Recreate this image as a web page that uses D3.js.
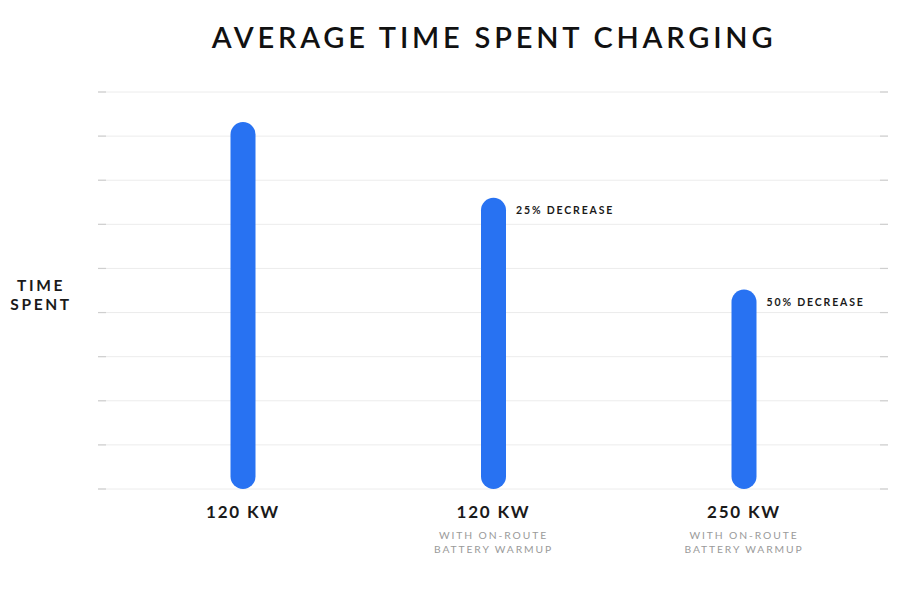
<!DOCTYPE html>
<html>
<head>
<meta charset="utf-8">
<script src="https://cdn.jsdelivr.net/npm/d3@7"></script>
<style>
  html, body { margin: 0; padding: 0; background: #fff; }
  svg { display: block; }
  text { font-family: "Lato", "Open Sans", sans-serif; }
</style>
</head>
<body>
<svg id="chart" width="900" height="600"></svg>
<script>
// ---- data ----
const categories = ["120 KW", "120 KW ", "250 KW"];
const subLabels = [[], ["WITH ON-ROUTE", "BATTERY WARMUP"], ["WITH ON-ROUTE", "BATTERY WARMUP"]];
const values = [8.32, 6.6, 4.52];
const annotations = ["", "25% DECREASE", "50% DECREASE"];
const gridTicks = [0, 1, 2, 3, 4, 5, 6, 7, 8, 9];
const title = "AVERAGE TIME SPENT CHARGING";
const yLabel = ["TIME", "SPENT"];

// ---- layout ----
(function () {
const svg = d3.select("#chart");
const gLeft = 98, gRight = 888, gTop = 92, gBottom = 489;
const x = d3.scalePoint().domain(categories).range([243, 744]);
const y = d3.scaleLinear().domain([0, 9]).range([gBottom, gTop]);
const barW = 25;

// grid lines
const grid = svg.append("g");
grid.selectAll("line.g").data(gridTicks).join("line").attr("class", "g")
  .attr("x1", gLeft).attr("x2", gRight)
  .attr("y1", d => y(d)).attr("y2", d => y(d))
  .attr("stroke", "#ececec").attr("stroke-width", 1);
grid.selectAll("line.l").data(gridTicks).join("line").attr("class", "l")
  .attr("x1", gLeft).attr("x2", gLeft + 8)
  .attr("y1", d => y(d)).attr("y2", d => y(d))
  .attr("stroke", "#cfcfcf").attr("stroke-width", 1.2);
grid.selectAll("line.r").data(gridTicks).join("line").attr("class", "r")
  .attr("x1", gRight - 8).attr("x2", gRight)
  .attr("y1", d => y(d)).attr("y2", d => y(d))
  .attr("stroke", "#cfcfcf").attr("stroke-width", 1.2);

// bars (rounded capsules)
svg.append("g").selectAll("rect").data(values).join("rect")
  .attr("x", (d, i) => x(categories[i]) - barW / 2)
  .attr("y", d => y(d))
  .attr("width", barW)
  .attr("height", d => y(0) - y(d))
  .attr("rx", barW / 2).attr("ry", barW / 2)
  .attr("fill", "#2872f2");

// annotations
svg.append("g").selectAll("text").data(annotations).join("text")
  .attr("x", (d, i) => x(categories[i]) + barW / 2 + 10)
  .attr("y", (d, i) => y(values[i]) + 16)
  .attr("font-size", 10.5).attr("font-weight", 700)
  .attr("letter-spacing", "1.85px")
  .attr("fill", "#1a1a1a")
  .text(d => d);

// category labels
svg.append("g").selectAll("text").data(categories).join("text")
  .attr("x", d => x(d))
  .attr("y", 518)
  .attr("text-anchor", "middle")
  .attr("font-size", 17).attr("font-weight", 700)
  .attr("letter-spacing", "1.8px")
  .attr("fill", "#1a1a1a")
  .text(d => d.trim());

// sub labels
categories.forEach((c, i) => {
  svg.append("g").selectAll("text").data(subLabels[i]).join("text")
    .attr("x", x(c))
    .attr("y", (d, j) => 539 + j * 14)
    .attr("text-anchor", "middle")
    .attr("font-size", 10.3).attr("font-weight", 400)
    .attr("letter-spacing", "1.9px")
    .attr("fill", "#9a9a9a")
    .text(d => d);
});

// y label
svg.append("g").selectAll("text").data(yLabel).join("text")
  .attr("x", 41)
  .attr("y", (d, i) => 291 + i * 19)
  .attr("text-anchor", "middle")
  .attr("font-size", 15.5).attr("font-weight", 700)
  .attr("letter-spacing", "2.6px")
  .attr("fill", "#1a1a1a")
  .text(d => d);

// title
svg.append("text")
  .attr("x", 494).attr("y", 48)
  .attr("text-anchor", "middle")
  .attr("font-size", 29).attr("font-weight", 600)
  .attr("letter-spacing", "3.8px")
  .attr("fill", "#111")
  .text(title);
})();
</script>
</body>
</html>
